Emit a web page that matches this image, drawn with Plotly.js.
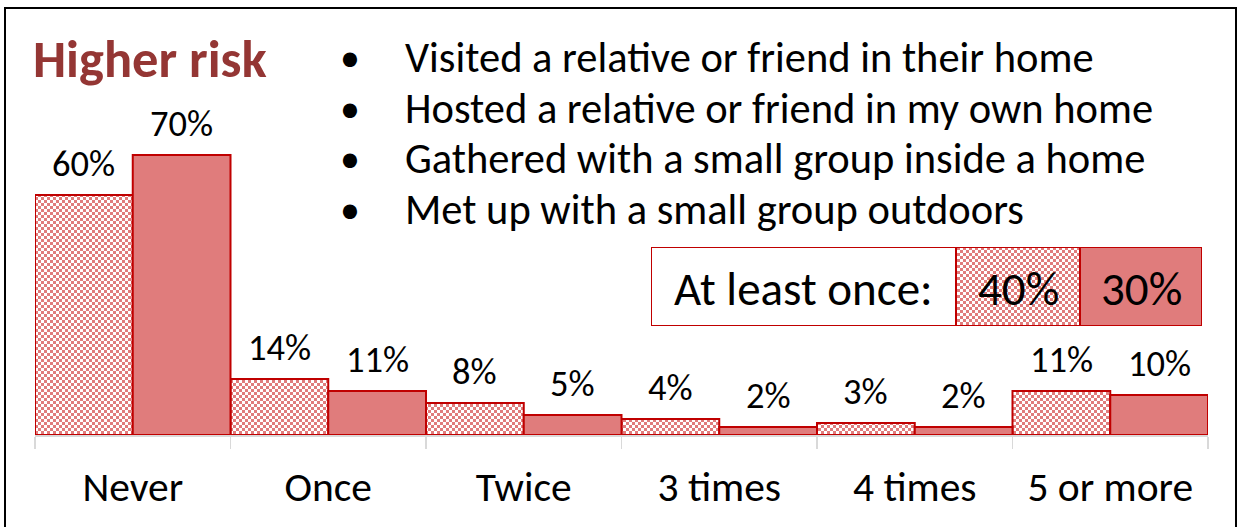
<!DOCTYPE html>
<html><head><meta charset="utf-8">
<script src="https://cdn.plot.ly/plotly-3.0.1.min.js"></script>
<style>html,body{margin:0;padding:0;background:#fff}#chart{width:1242px;height:527px}</style>
</head><body><div id="chart"></div>
<script>
// ---- data ----
const categories = ['Never', 'Once', 'Twice', '3 times', '4 times', '5 or more'];
const seriesHatched = [60, 14, 8, 4, 3, 11];
const seriesSolid = [70, 11, 5, 2, 2, 10];
const atLeastOnceLabel = 'At least once:';
const atLeastOnce = [40, 30];
const chartTitle = 'Higher risk';
const activities = [
  'Visited a relative or friend in their home',
  'Hosted a relative or friend in my own home',
  'Gathered with a small group inside a home',
  'Met up with a small group outdoors'
];

// ---- style / layout ----
const W = 1242, H = 527;
const M = {l: 35, r: 34, t: 35, b: 92};
const PW = W - M.l - M.r, PH = H - M.t - M.b;
const px = x => (x - M.l) / PW;
const py = y => (H - M.b - y) / PH;
const FONT = 'Carlito, Calibri, sans-serif';
const PINK = '#E07C7C', RED = '#C00000', TITLE = '#943634';
const pattern = {shape: '.', fillmode: 'replace', bgcolor: '#ffffff', fgcolor: PINK, size: 6, solidity: 0.5};

const traces = [
  {type: 'bar', x: categories, y: seriesHatched, name: 'A',
   marker: {color: PINK, line: {color: RED, width: 2}, pattern: pattern},
   hoverinfo: 'skip'},
  {type: 'bar', x: categories, y: seriesSolid, name: 'B',
   marker: {color: PINK, line: {color: RED, width: 2}},
   hoverinfo: 'skip'}
];

// "At least once" box drawn as a horizontal bar strip on its own axes
const boxW = [305, 124, 122];
const boxBase = [0, 305, 429];
traces.push({
  type: 'bar', orientation: 'h', xaxis: 'x2', yaxis: 'y2',
  y: [0, 0, 0], x: boxW, base: boxBase, width: 1,
  marker: {color: ['#ffffff', PINK, PINK], line: {color: RED, width: 2},
           pattern: {shape: ['', '.', ''], fillmode: 'replace', bgcolor: '#ffffff', fgcolor: PINK, size: 6, solidity: 0.5}},
  hoverinfo: 'skip'
});

const annotations = [];
// data labels
categories.forEach((c, i) => {
  annotations.push({x: i - 0.25, y: seriesHatched[i], xref: 'x', yref: 'y', text: seriesHatched[i] + '%',
    showarrow: false, yanchor: 'middle', yshift: 32, font: {family: FONT, size: 36.5, color: '#000'}});
  annotations.push({x: i + 0.25, y: seriesSolid[i], xref: 'x', yref: 'y', text: seriesSolid[i] + '%',
    showarrow: false, yanchor: 'middle', yshift: 32, font: {family: FONT, size: 36.5, color: '#000'}});
});
// title
annotations.push({xref: 'paper', yref: 'paper', x: px(31), y: py(59), xanchor: 'left', yanchor: 'middle',
  text: '<b>' + chartTitle + '</b>', showarrow: false, font: {family: FONT, size: 52.5, color: TITLE}});
// bullet list
const lineY = [57, 108, 158, 209];
activities.forEach((t, i) => {
  annotations.push({xref: 'paper', yref: 'paper', x: px(350), y: py(lineY[i]), xanchor: 'center', yanchor: 'middle',
    text: '•', showarrow: false, font: {family: FONT, size: 40, color: '#000'}});
  annotations.push({xref: 'paper', yref: 'paper', x: px(403), y: py(lineY[i]), xanchor: 'left', yanchor: 'middle',
    text: t, showarrow: false, font: {family: FONT, size: 42.5, color: '#000'}});
});
// legend box texts
const boxTexts = [atLeastOnceLabel, atLeastOnce[0] + '%', atLeastOnce[1] + '%'];
boxTexts.forEach((t, i) => {
  annotations.push({xref: 'x2', yref: 'y2', x: boxBase[i] + boxW[i] / 2, y: 0, xanchor: 'center', yanchor: 'middle',
    yshift: -2, text: t, showarrow: false, font: {family: FONT, size: 47, color: '#000'}});
});

const layout = {
  width: W, height: H, margin: M, showlegend: false,
  paper_bgcolor: '#fff', plot_bgcolor: '#fff',
  barmode: 'group', bargap: 0, bargroupgap: 0,
  font: {family: FONT, color: '#000'},
  xaxis: {type: 'category', showline: true, linecolor: '#D9D9D9', linewidth: 2,
    ticks: 'outside', tickson: 'boundaries', ticklen: 12, tickcolor: '#D9D9D9', tickwidth: 1.5,
    tickfont: {family: FONT, size: 41.5, color: '#000'}, ticklabelstandoff: 14,
    showgrid: false, zeroline: false, fixedrange: true},
  yaxis: {range: [0, 100], visible: false, fixedrange: true},
  xaxis2: {domain: [px(651), px(1202)], range: [0, 551], anchor: 'y2', visible: false, fixedrange: true},
  yaxis2: {domain: [py(326), py(247)], range: [-0.5, 0.5], anchor: 'x2', visible: false, fixedrange: true},
  annotations: annotations,
  shapes: [{type: 'rect', xref: 'paper', yref: 'paper', x0: px(5), x1: px(1236), y0: py(535), y1: py(8),
    line: {color: '#000', width: 2}, fillcolor: 'rgba(0,0,0,0)', layer: 'above'}]
};

function checker(gd) {
  const ns = 'http://www.w3.org/2000/svg';
  gd.querySelectorAll('pattern').forEach(p => {
    while (p.firstChild) p.removeChild(p.firstChild);
    p.setAttribute('width', 6); p.setAttribute('height', 6);
    const mk = (x, y, w, h, c) => { const r = document.createElementNS(ns, 'rect');
      r.setAttribute('x', x); r.setAttribute('y', y); r.setAttribute('width', w); r.setAttribute('height', h);
      r.setAttribute('fill', c); p.appendChild(r); };
    mk(0, 0, 6, 6, '#ffffff'); mk(0, 0, 3, 3, PINK); mk(3, 3, 3, 3, PINK);
  });
}

Plotly.newPlot('chart', traces, layout, {staticPlot: true, displayModeBar: false}).then(checker);
</script></body></html>
